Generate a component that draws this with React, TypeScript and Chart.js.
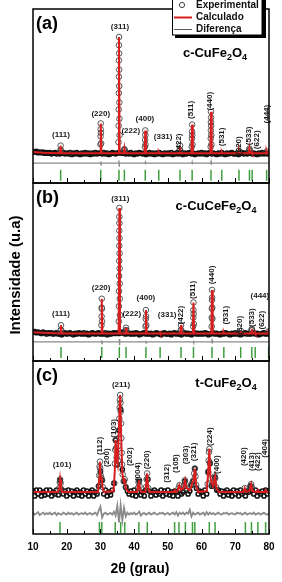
import React, { useEffect, useRef } from 'react';
import { Chart, registerables } from 'chart.js';

Chart.register(...registerables);

const FONT = '"Liberation Sans", Arial, Helvetica, sans-serif';
const RED = '#d81e1e';
const GREEN = '#3f9f3f';
const GRAY = '#8a8a8a';

// 2θ grid (degrees) for the experimental background / difference scans
const GRID = [
  10, 10.5, 11, 11.5, 12, 12.5, 13, 13.5, 14, 14.5,
  15, 15.5, 16, 16.5, 17, 17.5, 18, 18.5, 19, 19.5,
  20, 20.5, 21, 21.5, 22, 22.5, 23, 23.5, 24, 24.5,
  25, 25.5, 26, 26.5, 27, 27.5, 28, 28.5, 29, 29.5,
  30, 30.5, 31, 31.5, 32, 32.5, 33, 33.5, 34, 34.5,
  35, 35.5, 36, 36.5, 37, 37.5, 38, 38.5, 39, 39.5,
  40, 40.5, 41, 41.5, 42, 42.5, 43, 43.5, 44, 44.5,
  45, 45.5, 46, 46.5, 47, 47.5, 48, 48.5, 49, 49.5,
  50, 50.5, 51, 51.5, 52, 52.5, 53, 53.5, 54, 54.5,
  55, 55.5, 56, 56.5, 57, 57.5, 58, 58.5, 59, 59.5,
  60, 60.5, 61, 61.5, 62, 62.5, 63, 63.5, 64, 64.5,
  65, 65.5, 66, 66.5, 67, 67.5, 68, 68.5, 69, 69.5,
  70, 70.5, 71, 71.5, 72, 72.5, 73, 73.5, 74, 74.5,
  75, 75.5, 76, 76.5, 77, 77.5, 78, 78.5, 79, 79.5,
  80,
];

// ---------- Panel (a) c-CuFe2O4 ----------
const EXP_BASE_A = [
  2, 1.5, 2, 1, 1.5, 1, 1.5, 0.5, 1, 0.5,
  1, 0, 0.5, 1, 0, 0.5, 0, 0.5, 1, 0,
  0.5, 0, 1, -0.5, 0.5, 0, 1, 0, -0.5, 0.5,
  0, 1, 0, 0.5, -0.5, 0.5, 0, 1, 0, 0.5,
  0.5, 0, 1, 0, 0.5, -0.5, 0, 1, 0.5, 0,
  0.5, 1, 1, 0.5, 1, 0, 0.5, 0, 1, 0,
  -0.5, 0.5, 0, 1, 0.5, 0, 0.5, -0.5, 0, 1,
  0, 0.5, -0.5, 0.5, 0, 1, 0, -0.5, 0.5, 0,
  0.5, 0, 1, -0.5, 0, 0.5, 0, 1, 0, -0.5,
  0.5, 0, 0.5, 1, 0, 0.5, -0.5, 0, 0.5, 0,
  1, 0, 0.5, -0.5, 0.5, 1, 0, 0.5, 0, -0.5,
  0.5, 0, 1, 0, -0.5, 0.5, 0, 0.5, 1, 0,
  0, 0.5, -0.5, 0.5, 1, 0, 0.5, 0, 1, 0.5,
  0, 0.5, 0, -0.5, 0.5, 0, 1, 0, 0.5, 0,
  0.5,
];
const EXP_PEAKS_A = [
  [18.12, 3], [18.2, 7], [18.3, 3],
  [30.0, 8], [30.05, 15], [30.08, 21], [30.1, 26], [30.14, 18], [30.2, 9],
  [35.35, 10], [35.4, 24], [35.43, 38], [35.46, 52], [35.48, 66], [35.49, 80], [35.5, 93], [35.52, 100],
  [35.54, 86], [35.56, 72], [35.58, 58], [35.61, 44], [35.64, 30], [35.68, 16],
  [37.0, 3], [37.1, 4], [37.2, 3],
  [43.2, 6], [43.25, 12], [43.3, 20], [43.33, 16], [43.38, 8],
  [53.5, 3], [53.6, 7], [53.7, 3],
  [57.1, 6], [57.15, 13], [57.18, 19], [57.2, 25], [57.24, 16], [57.3, 8],
  [62.7, 6], [62.73, 13], [62.76, 20], [62.78, 27], [62.8, 36], [62.82, 31], [62.85, 24], [62.88, 16], [62.92, 8],
  [71.1, 2.5],
  [74.1, 3], [74.2, 4.5], [74.3, 3],
  [79.3, 2],
];
const CALC_A = [
  [10, 1.5], [13, 1], [18.0, 0.5], [18.2, 7], [18.4, 0.5],
  [29.9, 0.5], [30.1, 26], [30.3, 0.5],
  [35.3, 0.5], [35.5, 100], [35.7, 0.5],
  [36.95, 0.5], [37.1, 4], [37.25, 0.5],
  [43.1, 0.5], [43.3, 20], [43.5, 0.5],
  [47.2, 0.5], [47.3, 1.2], [47.4, 0.5],
  [53.4, 0.5], [53.6, 7], [53.8, 0.5],
  [57.0, 0.5], [57.2, 25], [57.4, 0.5],
  [62.6, 0.5], [62.8, 36], [63.0, 0.5],
  [65.9, 0.5], [66.0, 1.2], [66.1, 0.5],
  [70.95, 0.5], [71.1, 2.5], [71.25, 0.5],
  [74.0, 0.5], [74.2, 4.5], [74.4, 0.5],
  [74.9, 0.5], [75.0, 1.2], [75.1, 0.5],
  [79.15, 0.5], [79.3, 2], [79.45, 0.5], [80, 0.5],
];
const DIFF_A = [
  [10, -8], [30.0, -8], [30.1, -6.5], [30.2, -9.5], [30.3, -8],
  [35.4, -8], [35.48, -5.5], [35.56, -10.5], [35.65, -8],
  [43.2, -8], [43.3, -7], [43.38, -9], [43.45, -8],
  [57.1, -8], [57.2, -7], [57.28, -9], [57.35, -8],
  [62.7, -8], [62.8, -6.5], [62.88, -9.5], [62.95, -8], [80, -8],
];
const BRAGG_A = [18.2, 30.1, 35.5, 37.1, 43.3, 47.3, 53.6, 57.2, 62.8, 66.0, 71.1, 74.2, 75.0, 79.3];
const HKL_A: [string, number, number, number][] = [
  ['(111)', 18.3, 16.2, 0], ['(220)', 30.1, 34, 0], ['(311)', 35.8, 109, 0],
  ['(222)', 39.0, 19.7, 0], ['(400)', 43.2, 30, 0], ['(331)', 48.6, 14.8, 0],
  ['(422)', 53.3, 9.4, 1], ['(511)', 56.9, 37.6, 1], ['(440)', 62.3, 45, 1],
  ['(531)', 66.0, 14.5, 1], ['(620)', 71.1, 7, 1], ['(533)', 73.9, 15.4, 1],
  ['(622)', 76.4, 12, 1], ['(444)', 79.3, 34, 1],
];

// ---------- Panel (b) c-CuCeFe2O4 ----------
const EXP_BASE_B = [
  1.5, 2, 1, 1.5, 1, 0.5, 1.5, 1, 0, 1,
  0.5, 1, 0, 0.5, 1, 0, 0.5, -0.5, 0.5, 1,
  0, 0.5, 1, 0, -0.5, 0.5, 0, 1, 0.5, 0,
  1, 0, 0.5, -0.5, 0, 1, 0.5, 0, 0.5, 1,
  0, 0.5, 0, 1, -0.5, 0.5, 0, 0.5, 1, 0.5,
  1, 0.5, 1, 1.5, 0.5, 0, 1, 0.5, 0, 0.5,
  0, 1, 0.5, -0.5, 0, 0.5, 1, 0, 0.5, 0,
  0.5, -0.5, 0, 1, 0.5, 0, -0.5, 0.5, 1, 0,
  0, 0.5, -0.5, 0.5, 1, 0, 0.5, 0, -0.5, 0.5,
  1, 0, 0.5, 0, -0.5, 0.5, 1, 0, 0.5, 0,
  0.5, 0, 1, 0.5, -0.5, 0, 0.5, 1, 0, 0.5,
  0, -0.5, 0.5, 0, 1, 0.5, 0, -0.5, 0.5, 0,
  1, 0, 0.5, -0.5, 0, 0.5, 1, 0, 0.5, 0,
  0.5, 1, 0, 0.5, -0.5, 0, 0.5, 1, 0, 0.5,
  0,
];
const EXP_PEAKS_B = [
  [18.22, 3], [18.3, 7], [18.38, 3],
  [30.3, 7], [30.35, 14], [30.38, 21], [30.4, 28], [30.43, 20], [30.48, 10],
  [35.45, 10], [35.5, 22], [35.52, 34], [35.55, 46], [35.57, 58], [35.59, 70], [35.6, 82], [35.61, 93], [35.62, 100],
  [35.64, 88], [35.66, 76], [35.68, 64], [35.7, 52], [35.72, 40], [35.75, 28], [35.8, 15],
  [37.5, 3], [37.6, 5], [37.7, 3],
  [43.4, 6], [43.45, 12], [43.5, 19], [43.53, 14], [43.6, 7],
  [53.8, 3], [53.9, 7], [54.0, 3],
  [57.5, 6], [57.55, 13], [57.58, 19], [57.6, 25], [57.64, 16], [57.7, 8],
  [63.0, 6], [63.03, 13], [63.06, 20], [63.08, 27], [63.1, 35], [63.13, 29], [63.16, 21], [63.2, 12],
  [71.6, 2.5],
  [74.8, 3], [74.9, 4], [75.0, 3],
  [79.8, 2],
];
const CALC_B = [
  [10, 1.5], [13, 1], [18.1, 0.5], [18.3, 7], [18.5, 0.5],
  [30.2, 0.5], [30.4, 28], [30.6, 0.5],
  [35.4, 0.5], [35.62, 100], [35.8, 0.5],
  [37.45, 0.5], [37.6, 5], [37.75, 0.5],
  [43.3, 0.5], [43.5, 19], [43.7, 0.5],
  [47.6, 0.5], [47.7, 1.2], [47.8, 0.5],
  [53.7, 0.5], [53.9, 7], [54.1, 0.5],
  [57.4, 0.5], [57.6, 25], [57.8, 0.5],
  [62.9, 0.5], [63.1, 35], [63.3, 0.5],
  [66.5, 0.5], [66.6, 1.2], [66.7, 0.5],
  [71.45, 0.5], [71.6, 2.5], [71.75, 0.5],
  [74.7, 0.5], [74.9, 4], [75.1, 0.5],
  [75.8, 0.5], [75.9, 1.2], [76.0, 0.5],
  [79.65, 0.5], [79.8, 2], [79.95, 0.5], [80, 0.5],
];
const DIFF_B = [
  [10, -6.3], [30.3, -6.3], [30.4, -5], [30.48, -7.6], [30.55, -6.3],
  [35.5, -6.3], [35.6, -4], [35.68, -9], [35.76, -6.3],
  [43.4, -6.3], [43.5, -5.3], [43.58, -7.3], [43.65, -6.3],
  [57.5, -6.3], [57.6, -5.3], [57.68, -7.3], [57.75, -6.3],
  [63.0, -6.3], [63.1, -5], [63.18, -7.6], [63.25, -6.3], [80, -6.3],
];
const BRAGG_B = [18.3, 30.4, 35.6, 37.6, 43.5, 47.7, 53.9, 57.6, 63.1, 66.6, 71.6, 74.9, 75.9, 79.9];
const HKL_B: [string, number, number, number][] = [
  ['(111)', 18.3, 15.9, 0], ['(220)', 30.2, 37, 0], ['(311)', 35.9, 107, 0],
  ['(222)', 39.3, 16.4, 0], ['(400)', 43.5, 29, 0], ['(331)', 49.8, 15, 0],
  ['(422)', 53.9, 15, 1], ['(511)', 57.4, 35, 1], ['(440)', 63.1, 46.8, 1],
  ['(531)', 67.3, 15, 1], ['(620)', 71.4, 7, 1], ['(533)', 74.9, 13, 1],
  ['(622)', 78.0, 11, 1], ['(444)', 77.3, 30, 0],
];

// ---------- Panel (c) t-CuFe2O4 ----------
const EXP_BASE_C = [
  2, -3, 3, -1, 3, -3, 1, -2, 3, -1,
  3, -3, 1, -1, 3, -2, 13, 3, -1, 2,
  -3, 3, -1, 2, -3, 1, 3, -2, 1, -3,
  3, -1, 2, -3, 1, 3, -3, 1, -1, 7,
  22, 13, -1, 3, -3, 1, -2, 3, 10, 54,
  29, 64, 85, 24, 12, 6, 2, -1, 2, -2,
  3, -3, 1, 12, -2, 1, -3, 3, 14, 2,
  -3, 1, 3, -2, 1, -1, 3, -3, 2, -1,
  3, -2, 1, -3, 2, 1, -3, 3, -1, 1,
  12, 3, -1, 2, 8, 12, 25, 5, -1, 2,
  1, -3, 3, -1, 22, 30, 7, 8, 16, 3,
  3, -1, 2, -3, 1, 3, -2, 1, -3, 3,
  -1, 2, -3, 3, -1, 1, -3, 2, 1, 7,
  3, -1, 3, -3, 1, -1, 2, -3, 3, -1,
  2,
];
const EXP_PEAKS_C = [
  [17.8, 5], [17.95, 11], [18.05, 14], [18.2, 10], [18.4, 4],
  [29.5, 7], [29.65, 18], [29.75, 27], [29.85, 32], [29.95, 25], [30.1, 18], [30.3, 15], [30.5, 13], [30.7, 6],
  [34.1, 10], [34.3, 30], [34.4, 44], [34.5, 54], [34.65, 46], [34.8, 36], [35.0, 29], [35.2, 33], [35.35, 48],
  [35.5, 64], [35.6, 76], [35.7, 87], [35.78, 95], [35.85, 100], [35.95, 92], [36.02, 83], [36.1, 71], [36.2, 56],
  [36.3, 41], [36.4, 29], [36.6, 19], [36.9, 12], [37.2, 14], [37.5, 6],
  [41.1, 5], [41.3, 11], [41.45, 13], [41.6, 7],
  [43.5, 6], [43.7, 14], [43.85, 20], [44.0, 14], [44.2, 5],
  [53.2, 5], [53.45, 8], [54.8, 8], [55.05, 13], [55.25, 9], [55.5, 5],
  [57.0, 8], [57.3, 11], [57.6, 13], [57.8, 20], [58.0, 25], [58.2, 17], [58.4, 8],
  [61.8, 9], [61.95, 21], [62.1, 33], [62.22, 42], [62.32, 45], [62.45, 31], [62.65, 15], [63.0, 8],
  [63.6, 10], [63.9, 17], [64.05, 15], [64.3, 6],
  [72.8, 5],
  [74.5, 7], [74.7, 9], [74.9, 6],
];
const CALC_C = [
  [10, 1], [17.4, 1], [17.8, 5], [18.05, 14], [18.3, 7], [18.6, 1],
  [29.3, 1], [29.6, 14], [29.8, 32], [30.05, 18], [30.35, 15], [30.6, 6], [31.1, 1],
  [33.9, 2], [34.25, 22], [34.5, 54], [34.8, 36], [35.1, 30], [35.45, 62], [35.85, 100], [36.15, 58],
  [36.5, 20], [36.9, 12], [37.2, 13], [37.6, 4], [38.4, 1],
  [40.9, 1], [41.2, 8], [41.4, 13], [41.7, 4], [42.1, 1],
  [43.3, 1], [43.65, 12], [43.85, 20], [44.15, 6], [44.6, 1],
  [51.7, 1], [52.0, 3], [52.3, 1],
  [52.9, 2], [53.4, 8], [53.9, 3], [54.6, 5], [55.1, 13], [55.5, 5], [56.6, 3], [57.3, 11], [57.6, 12],
  [58.0, 25], [58.4, 8], [59.0, 1],
  [61.5, 2], [61.95, 20], [62.3, 45], [62.65, 15], [63.4, 7], [64.0, 17], [64.4, 5], [65.1, 1],
  [72.3, 1], [72.8, 5], [73.2, 1],
  [74.2, 2], [74.7, 9], [75.1, 2],
  [76.4, 1], [76.7, 3], [77.0, 1],
  [78.7, 1], [79.0, 3], [79.3, 1], [80, 1],
];
const DIFF_C = [
  -20, -22, -21, -19.5, -22.5, -21, -20, -22, -20.5, -21.5,
  -20, -22, -21, -20, -22.5, -20.5, -21.5, -22, -20, -21,
  -22, -20, -21.5, -20.5, -22, -21, -20, -22, -21, -20.5,
  -21.5, -20, -22, -21, -20.5, -22, -21, -20, -22.5, -18,
  -14, -25, -21, -20, -22, -21, -20.5, -22, -19, -23,
  -13, -30, -12, -28, -15, -24, -20, -22, -20.5, -21.5,
  -20, -22, -21, -19, -23, -21, -20.5, -22, -21, -20,
  -22, -21, -20, -21.5, -22, -20.5, -21, -20, -22, -21,
  -20.5, -22, -21, -20, -22, -19.5, -23, -20, -21.5, -20,
  -22, -20, -21, -17, -24, -20, -22, -21, -20, -22,
  -21, -20, -22.5, -19.5, -22, -20, -21.5, -20.5, -22, -21,
  -20, -21.5, -22, -20.5, -21, -20, -22, -21, -20.5, -21.5,
  -22, -20, -21, -20.5, -22, -21, -20, -22, -21, -20.5,
  -21.5, -20, -22, -21, -20.5, -22, -21, -20, -21.5, -22,
  -21,
];
const BRAGG_C = [18.0, 29.7, 30.4, 34.4, 36.0, 37.2, 41.4, 43.9, 52.0, 53.3, 55.2, 57.3, 58.0, 62.3, 64.0, 73.0, 74.8, 76.7, 79.0];
const HKL_C: [string, number, number, number][] = [
  ['(101)', 18.6, 28.6, 0], ['(112)', 29.7, 48, 1], ['(200)', 31.9, 36, 1],
  ['(103)', 34.0, 66, 1], ['(211)', 36.1, 110, 0], ['(202)', 38.7, 37, 1],
  ['(004)', 41.2, 21.7, 1], ['(220)', 43.9, 33.7, 1], ['(312)', 49.7, 20, 1],
  ['(105)', 52.4, 30, 1], ['(303)', 55.4, 38.8, 1], ['(321)', 57.8, 42, 1],
  ['(224)', 62.3, 57.5, 1], ['(400)', 64.5, 29, 1], ['(420)', 72.6, 37, 1],
  ['(413)', 74.9, 32, 1], ['(422)', 76.8, 32, 1], ['(404)', 78.8, 45.6, 1],
];

const X_MIN = 10;
const X_MAX = 80;

const toXY = (arr: number[][]) => arr.map(([x, y]) => ({ x, y }));
const onGrid = (vals: number[]) => GRID.map((x, i) => ({ x, y: vals[i] }));

type Part = [string, boolean];
const PANELS = [
  {
    id: 'ya', letter: '(a)', formula: [['c-CuFe', false], ['2', true], ['O', false], ['4', true]] as Part[],
    fx: 215, fdy: 43, min: -25, max: 124, stackWeight: 174, weight: 3,
    calc: toXY(CALC_A), base: onGrid(EXP_BASE_A), peaks: toXY(EXP_PEAKS_A), diff: toXY(DIFF_A),
    bragg: BRAGG_A, braggY: -18.4, hkl: HKL_A, diffWidth: 1.2,
  },
  {
    id: 'yb', letter: '(b)', formula: [['c-CuCeFe', false], ['2', true], ['O', false], ['4', true]] as Part[],
    fx: 216, fdy: 22, min: -21.4, max: 119.8, stackWeight: 178, weight: 2,
    calc: toXY(CALC_B), base: onGrid(EXP_BASE_B), peaks: toXY(EXP_PEAKS_B), diff: toXY(DIFF_B),
    bragg: BRAGG_B, braggY: -14.7, hkl: HKL_B, diffWidth: 1.2,
  },
  {
    id: 'yc', letter: '(c)', formula: [['t-CuFe', false], ['2', true], ['O', false], ['4', true]] as Part[],
    fx: 226, fdy: 21, min: -41.8, max: 134.7, stackWeight: 173, weight: 1,
    calc: toXY(CALC_C), base: onGrid(EXP_BASE_C), peaks: toXY(EXP_PEAKS_C), diff: onGrid(DIFF_C),
    bragg: BRAGG_C, braggY: -35.2, hkl: HKL_C, diffWidth: 1.8,
  },
];

function drawFormula(ctx: CanvasRenderingContext2D, parts: Part[], cx: number, cy: number, size: number) {
  const big = `bold ${size}px ${FONT}`;
  const small = `bold ${Math.round(size * 0.72)}px ${FONT}`;
  let w = 0;
  parts.forEach(([t, sub]) => { ctx.font = sub ? small : big; w += ctx.measureText(t).width; });
  let x = cx - w / 2;
  ctx.textAlign = 'left';
  ctx.textBaseline = 'alphabetic';
  parts.forEach(([t, sub]) => {
    ctx.font = sub ? small : big;
    ctx.fillText(t, x, cy + size * 0.36 + (sub ? size * 0.22 : 0));
    x += ctx.measureText(t).width;
  });
}

const decoPlugin = {
  id: 'deco',
  afterDraw(chart: any) {
    const ctx: CanvasRenderingContext2D = chart.ctx;
    const xs = chart.scales.x;
    const area = chart.chartArea;
    ctx.save();
    PANELS.forEach((p) => {
      const ys = chart.scales[p.id];
      ctx.fillStyle = '#1a1a1a';
      ctx.font = `bold 8px ${FONT}`;
      ctx.textAlign = 'center';
      ctx.textBaseline = 'middle';
      p.hkl.forEach(([t, x, y, v]) => {
        const px = xs.getPixelForValue(x);
        const py = ys.getPixelForValue(y);
        if (v) {
          ctx.save();
          ctx.translate(px, py);
          ctx.rotate(-Math.PI / 2);
          ctx.fillText(t, 0, 0);
          ctx.restore();
        } else {
          ctx.fillText(t, px, py);
        }
      });
      ctx.strokeStyle = '#000';
      ctx.lineWidth = 1.5;
      ctx.strokeRect(area.left, ys.top, area.right - area.left, ys.bottom - ys.top);
      ctx.lineWidth = 1;
      for (let v = X_MIN; v <= X_MAX; v += 5) {
        const px = Math.round(xs.getPixelForValue(v)) + 0.5;
        const len = v % 10 === 0 ? 5 : 3;
        ctx.beginPath();
        ctx.moveTo(px, ys.bottom);
        ctx.lineTo(px, ys.bottom - len);
        ctx.stroke();
      }
      ctx.fillStyle = '#000';
      ctx.font = `bold 18px ${FONT}`;
      ctx.textAlign = 'left';
      ctx.textBaseline = 'middle';
      ctx.fillText(p.letter, area.left + 3, ys.top + 15);
      drawFormula(ctx, p.formula, p.fx, ys.top + p.fdy, 13);
    });

    // legend box with shadow
    ctx.fillStyle = '#000';
    ctx.fillRect(175, -2, 91, 40);
    ctx.fillStyle = '#fff';
    ctx.fillRect(172, -5, 90, 40);
    ctx.strokeStyle = '#000';
    ctx.lineWidth = 1;
    ctx.strokeRect(172.5, -5, 89.5, 40);
    ctx.beginPath();
    ctx.arc(182, 5, 2.6, 0, Math.PI * 2);
    ctx.strokeStyle = '#444';
    ctx.lineWidth = 1;
    ctx.stroke();
    ctx.beginPath();
    ctx.moveTo(174, 17.5);
    ctx.lineTo(192, 17.5);
    ctx.strokeStyle = RED;
    ctx.lineWidth = 2;
    ctx.stroke();
    ctx.beginPath();
    ctx.moveTo(174, 29.5);
    ctx.lineTo(192, 29.5);
    ctx.strokeStyle = '#555';
    ctx.lineWidth = 1;
    ctx.stroke();
    ctx.fillStyle = '#111';
    ctx.font = `bold 10px ${FONT}`;
    ctx.textAlign = 'left';
    ctx.textBaseline = 'middle';
    ctx.fillText('Experimental', 196, 5);
    ctx.fillText('Calculado', 196, 17);
    ctx.fillText('Diferença', 196, 29);

    ctx.fillStyle = '#000';
    ctx.font = `bold 14px ${FONT}`;
    ctx.textAlign = 'center';
    ctx.textBaseline = 'middle';
    ctx.fillText('2θ (grau)', 140, 569);
    ctx.save();
    ctx.translate(16, 275);
    ctx.rotate(-Math.PI / 2);
    ctx.font = `bold 15px ${FONT}`;
    ctx.fillText('Intensidade (u.a)', 0, 0);
    ctx.restore();
    ctx.restore();
  },
};

export default function App() {
  const ref = useRef<HTMLCanvasElement>(null);
  useEffect(() => {
    const datasets: any[] = [];
    const scales: any = {
      x: {
        type: 'linear', position: 'bottom', min: X_MIN, max: X_MAX,
        grid: { display: false, drawTicks: false },
        border: { display: false },
        ticks: {
          stepSize: 10, autoSkip: false, maxRotation: 0, padding: 7, color: '#000',
          font: { family: FONT, size: 10, weight: 'bold' },
        },
        afterFit: (s: any) => { s.height = 48; s.paddingLeft = 0; s.paddingRight = 0; },
      },
    };
    PANELS.forEach((p) => {
      scales[p.id] = {
        type: 'linear', position: 'left', stack: 'panels', stackWeight: p.stackWeight, weight: p.weight,
        min: p.min, max: p.max,
        grid: { display: false, drawTicks: false, tickLength: 0 },
        border: { display: false },
        ticks: { display: false },
        afterFit: (s: any) => { s.width = 0; },
      };
      datasets.push({
        label: 'Calculado', data: p.calc, yAxisID: p.id, showLine: true,
        borderColor: RED, borderWidth: 2, pointRadius: 0, tension: 0, order: 0,
      });
      datasets.push({
        label: 'Experimental', data: p.peaks, yAxisID: p.id, showLine: false,
        pointStyle: 'circle', pointRadius: 2.8, pointBorderWidth: 0.9,
        pointBorderColor: '#444', pointBackgroundColor: 'rgba(0,0,0,0)', order: 1,
      });
      datasets.push({
        label: 'Experimental', data: p.base, yAxisID: p.id, showLine: false,
        pointStyle: 'circle', pointRadius: 2.1, pointBorderWidth: 1.5,
        pointBorderColor: '#111', pointBackgroundColor: 'rgba(0,0,0,0)', order: 2,
      });
      datasets.push({
        label: 'Diferença', data: p.diff, yAxisID: p.id, showLine: true,
        borderColor: GRAY, borderWidth: p.diffWidth, pointRadius: 0, tension: 0, order: 3,
      });
      datasets.push({
        label: 'Bragg', data: p.bragg.map((x) => ({ x, y: p.braggY })), yAxisID: p.id, showLine: false,
        pointStyle: 'line', pointRotation: 90, pointRadius: 5.5, pointBorderWidth: 1.5,
        pointBorderColor: GREEN, order: 4,
      });
    });
    const chart = new Chart(ref.current as HTMLCanvasElement, {
      type: 'scatter',
      data: { datasets },
      options: {
        responsive: false,
        animation: false,
        events: [],
        layout: { padding: { left: 33, right: 13, top: 9, bottom: 0 } },
        plugins: { legend: { display: false }, tooltip: { enabled: false } },
        scales,
      } as any,
      plugins: [decoPlugin],
    });
    return () => chart.destroy();
  }, []);
  return (
    <div style={{ position: 'fixed', left: 0, top: 0, width: 282, height: 582, background: '#fff' }}>
      <canvas ref={ref} width={282} height={582} style={{ display: 'block', width: 282, height: 582 }} />
    </div>
  );
}
